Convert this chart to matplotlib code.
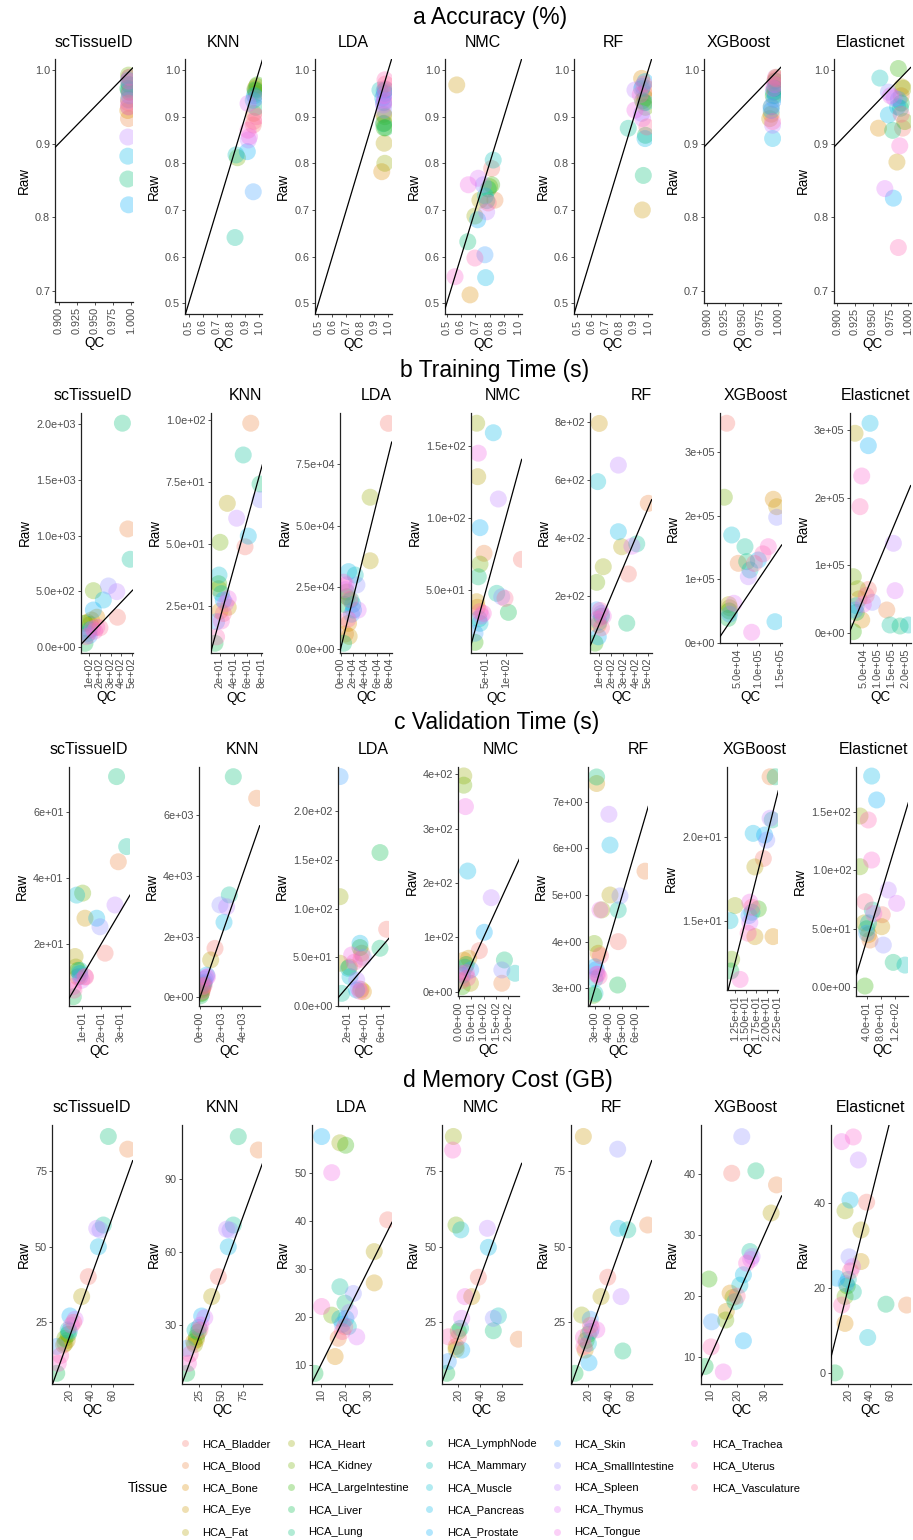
import numpy as np
import matplotlib
matplotlib.use("Agg")
import matplotlib.pyplot as plt
from matplotlib.lines import Line2D

plt.rcParams['font.family'] = ['Liberation Sans', 'DejaVu Sans']

# ---------------- data ----------------
tissues = ["HCA_Bladder", "HCA_Blood", "HCA_Bone", "HCA_Eye", "HCA_Fat", "HCA_Heart", "HCA_Kidney",
           "HCA_LargeIntestine", "HCA_Liver", "HCA_Lung", "HCA_LymphNode", "HCA_Mammary", "HCA_Muscle",
           "HCA_Pancreas", "HCA_Prostate", "HCA_Skin", "HCA_SmallIntestine", "HCA_Spleen", "HCA_Thymus",
           "HCA_Tongue", "HCA_Trachea", "HCA_Uterus", "HCA_Vasculature"]
methods = ["scTissueID", "KNN", "LDA", "NMC", "RF", "XGBoost", "Elasticnet"]
metric_titles = ["a Accuracy (%)", "b Training Time (s)", "c Validation Time (s)", "d Memory Cost (GB)"]

# Accuracy
acc_sctissueid_qc = [0.997,0.997,0.996,0.997,0.998,0.998,0.997,0.998,0.996,0.996,0.997,0.998,0.997,0.996,0.997,0.998,0.997,0.996,0.997,0.998,0.997,0.998,0.997]
acc_sctissueid_raw = [0.950,0.934,0.945,0.960,0.980,0.990,0.993,0.970,0.975,0.852,0.973,0.980,0.986,0.883,0.817,0.965,0.959,0.909,0.950,0.990,0.985,0.970,0.955]
acc_knn_qc = [0.957,0.960,0.975,0.970,0.980,0.975,0.845,0.985,0.970,0.975,0.828,0.835,0.957,0.965,0.915,0.957,0.975,0.922,0.920,0.930,0.920,0.981,0.960]
acc_knn_raw = [0.882,0.907,0.950,0.960,0.965,0.955,0.812,0.968,0.957,0.920,0.641,0.818,0.935,0.945,0.825,0.739,0.940,0.850,0.928,0.857,0.871,0.900,0.890]
acc_lda_qc = [0.970,0.965,0.953,0.970,0.970,0.975,0.975,0.970,0.980,0.965,0.980,0.940,0.970,0.960,0.975,0.965,0.970,0.965,0.975,0.970,0.975,0.976,0.980]
acc_lda_raw = [0.930,0.905,0.782,0.886,0.843,0.800,0.900,0.876,0.876,0.885,0.958,0.957,0.955,0.940,0.950,0.930,0.914,0.925,0.935,0.945,0.960,0.979,0.970]
acc_nmc_qc = [0.814,0.837,0.663,0.570,0.732,0.697,0.800,0.814,0.790,0.647,0.780,0.825,0.770,0.772,0.716,0.767,0.756,0.779,0.720,0.651,0.558,0.697,0.790]
acc_nmc_raw = [0.789,0.721,0.518,0.968,0.721,0.687,0.750,0.754,0.745,0.632,0.720,0.807,0.730,0.555,0.679,0.604,0.754,0.696,0.768,0.754,0.557,0.597,0.715]
acc_rf_qc = [0.970,0.990,0.953,0.958,0.977,0.970,0.980,0.960,0.980,0.965,0.859,0.953,0.980,0.977,0.977,0.960,0.953,0.906,0.960,0.906,0.943,0.970,0.990]
acc_rf_raw = [0.950,0.960,0.982,0.700,0.940,0.930,0.920,0.934,0.860,0.774,0.875,0.960,0.930,0.853,0.975,0.965,0.907,0.957,0.896,0.914,0.947,0.970,0.878]
acc_xgb_qc = [0.995,0.997,0.990,0.988,0.995,0.997,0.995,0.993,0.996,0.990,0.995,0.993,0.996,0.992,0.990,0.994,0.990,0.992,0.995,0.993,0.996,0.992,0.997]
acc_xgb_raw = [0.985,0.980,0.940,0.934,0.970,0.990,0.975,0.965,0.985,0.950,0.975,0.970,0.965,0.907,0.945,0.960,0.950,0.925,0.980,0.975,0.990,0.930,0.988]
acc_enet_qc = [0.992,0.990,0.958,0.984,0.991,0.993,0.995,0.986,0.990,0.978,0.989,0.960,0.985,0.972,0.979,0.986,0.972,0.980,0.967,0.975,0.988,0.986,0.990]
acc_enet_raw = [0.921,0.965,0.921,0.875,0.977,0.975,0.930,1.002,0.955,0.918,0.948,0.989,0.950,0.939,0.826,0.960,0.970,0.962,0.839,0.965,0.897,0.759,0.940]

# Training time
train_sctissueid_qc = [365,463,170,120,80,110,138,59,59,412,485,100,90,232,138,100,280,359,130,170,150,70,200]
train_sctissueid_raw = [265,1059,265,240,220,200,504,210,30,2010,786,150,120,420,330,100,546,495,160,175,140,90,170]
train_knn_qc = [56.6,65,20,32,30.7,18,20,18,12.7,78.6,54,22,18.5,61.4,24.8,15,78.6,44.4,28,32,22,15,25]
train_knn_raw = [48.9,98.7,23,24.5,66.4,32,50.7,34,10,74.2,85.9,30,37.5,53.2,27.4,18.7,67.9,60.4,26,28,19,12.6,22]
train_lda_qc = [78400,8000,13000,14000,48500,48500,10000,10400,6000,4900,17000,24000,20000,13000,21200,18000,26800,8000,28800,9000,5000,12000,15000]
train_lda_raw = [91500,6000,10300,5000,35700,61500,23000,21100,18000,2200,19800,29900,18000,31300,15700,14000,25900,24000,15700,25900,27000,12000,20000]
train_nmc_qc = [140,45,28,26.3,28.9,26.3,34.7,22,106.9,30.4,77.2,32,34.7,68.6,34.7,22,90,81.3,38,30.4,43,34.7,98.3]
train_nmc_raw = [71.3,75.5,38,41.9,128.7,165.8,68,13.7,34.5,59.2,47.7,30,26.9,159.2,93.3,20,45.3,113.2,32,145,33.8,35,44.2]
train_rf_qc = [341,505,94,102,286,135,81,67,120,328,410,100,89,259,94,81,120,259,370,135,90,110,120]
train_rf_raw = [276,520,100,796,370,301,247,37,130,106,380,110,595,422,59,152,140,652,372,130,120,150,90]
train_xgb_qc = [25200,52300,134300,142300,30000,32000,19600,31000,28900,72000,68000,79700,36900,138300,99200,32000,142300,75800,42000,83700,122600,110000,90000]
train_xgb_raw = [345800,125100,226000,214300,60000,55000,229200,50000,38400,127700,151300,114600,169700,33100,130300,45000,197600,104000,62100,16400,151300,140000,125000]
train_enet_qc = [67700,133000,44300,35000,20600,30000,14500,14500,25000,180100,144700,209600,25000,73800,67700,20600,82000,156400,162400,50000,44300,38300,60000]
train_enet_raw = [64000,33600,18800,50000,295100,65000,82900,1500,30000,9900,11400,11400,40000,309900,276800,33600,45000,132300,62200,42000,231900,186500,55000]

# Validation time
val_sctissueid_qc = [22,28.8,8,11.7,6.6,7,10.5,8,5.7,27.9,33.1,9,7.4,17.7,9,9.1,19.4,27.1,10,11.7,5.7,6,12]
val_sctissueid_raw = [17.2,44.9,10,27.8,16.2,13,35.4,12,4.0,70.7,49.5,12,34.8,27.8,11,10.1,25.2,31.8,9,10.1,7.1,6,10]
val_knn_qc = [1420,5360,200,150,1010,250,300,100,50,3150,2770,400,350,2270,630,470,1890,2520,600,710,300,200,400]
val_knn_raw = [1610,6550,250,150,1230,300,400,120,50,7260,3370,500,450,2470,730,600,3040,2980,650,680,350,200,400]
val_lda_qc = [66.8,36.8,38.8,36,10.8,10.8,22,34.8,58.8,58.8,12.8,20.7,22.8,34.8,30.8,10.8,38.8,30.8,33,24.8,28,35,36]
val_lda_raw = [78.8,54.2,14.7,17,43.9,112.3,40,60,157.6,59.3,13,38.7,30.1,64.4,16.4,235.7,50,26.7,18,52.4,45,15,48]
val_nmc_qc = [82.8,173.6,20,40,46.8,20,20,13.6,30,184,25,226.8,15,36,102.8,48,173.6,130.8,6.8,26.8,30,35,10]
val_nmc_raw = [75.5,15.5,58,61.5,15.5,397,380,9.2,50,58.4,45,33.9,30,222,109.3,40,40,173,33.9,340.6,35,25,20]
val_rf_qc = [4.7,6.66,3.24,3.12,4.1,3.5,2.95,2.9,4.66,3.12,4.7,3.0,3.0,4.1,3.0,3.1,4.83,4.02,3.2,3.37,3.12,3.3,3.4]
val_rf_raw = [4.0,5.51,3.75,7.39,5.0,4.68,3.96,2.85,3.07,7.53,4.68,2.89,3.2,6.07,3.46,3.4,4.98,6.73,3.3,4.68,3.3,3.25,3.7]
val_xgb_qc = [19.2,20.8,21.5,17.2,17.2,12.5,11.7,18,11.5,22,21.3,16.5,11.3,16.8,19.5,15.8,20,20.8,16,16.0,13.7,15.6,16.5]
val_xgb_raw = [18.7,23.57,14.05,14.05,18.2,15.9,12.7,15.7,12.0,23.57,21.0,15.5,15.0,20.2,20.1,15.3,19.8,21.1,14.9,16.1,11.5,14.25,15.8]
val_enet_qc = [84,49.3,45,82.4,33,21,21,35.2,40,115,56,148.2,45,54,68.2,40,87,101,124.7,60,54,44.5,35.2]
val_enet_raw = [62,40.4,45,51.8,55,146.3,103,1.1,50,21.3,66,19,55,180.4,160,46.1,36.1,83.1,71.7,63,108.7,142.9,73.1]

# Memory
mem_sctissueid_qc = [37.5,73.9,14.8,18,31.4,16,16,19,8.4,56,51.4,19,20,46.8,20.6,8.4,48.3,45.3,25.3,22,9.8,12,24]
mem_sctissueid_raw = [40.1,82.3,17.5,19,33.5,18,19.7,21,8.1,86.5,57.2,22.5,22,50,27.1,17,55.6,56.1,26,24,11.4,14,25]
mem_knn_qc = [46.8,91.9,19,22,39.3,20,22,24,11.1,69.3,63.7,20.5,25,58,28,11.1,60,56.2,31.5,27,13,15,26]
mem_knn_raw = [49.9,102.1,23,24,41.7,22,25,27,10.1,107.6,71.2,27.9,29,62.2,33.7,20.4,69.1,69.5,33,30,14.2,18,28]
mem_lda_qc = [37.9,17.3,16,32.3,32.3,18,14.6,20.4,7.6,20.1,18,21.5,18,20.5,10.4,19,23.6,22,25,14.6,10.4,19,20]
mem_lda_raw = [40.2,15.6,11.8,27.1,33.6,56.2,20.4,55.7,8.3,22.9,26.3,18,19.7,19.7,57.5,18.5,24.9,21,15.9,50,22.2,17,18]
mem_nmc_qc = [38.2,74.5,18,32.2,18,15.5,17.9,20,9.5,51.8,22,56.4,22.2,47.3,23.1,10.9,51.8,46.4,23.1,26.1,14.9,10.9,20]
mem_nmc_raw = [39.9,19.4,17,33.5,16,86.5,57.2,22,8.1,22.2,23,27.1,55.6,49.8,15.8,12,26.3,56.1,26.3,33.5,82,20.2,20]
mem_rf_qc = [37.9,74.8,17,15.4,31.7,13.9,20,18,7.7,51.8,56.4,22,20,47.7,20.6,21.8,47.1,50.2,23.1,27.8,15.5,16,22]
mem_rf_raw = [39.9,57.2,15.8,86.5,33.5,27.4,21,19,8.1,15.5,55.6,22,18,56.1,11.6,26,82.3,33.5,23,22.5,20,17,24]
mem_xgb_qc = [18,34.5,17.4,16,32.5,18.5,15.8,9.6,8.2,26.9,24.7,19.2,21,22.3,22.3,10.6,21.7,25.5,25,14.9,23.5,10.4,20]
mem_xgb_raw = [40.1,38.2,20.5,17.5,33.6,19.8,16.1,22.8,8.5,40.5,27.3,19.1,21.8,23.5,12.7,15.8,46.1,26.5,26,7.6,25.4,11.7,20]
mem_enet_qc = [37.2,74.7,16.9,31.9,31.9,16.9,17,19,7.5,55.3,24.7,20,38.2,21.6,9.1,18,20.7,29.4,24,13.8,24.7,13.8,22]
mem_enet_raw = [40.1,16,11.7,26.2,33.6,38.1,18,20.5,0.1,16.2,19.1,22,8.4,40.6,22.3,21,27.3,50,25,54.3,55.4,16,24]

# Tick labels
acc_x_fine = ["0.900", "0.925", "0.950", "0.975", "1.000"]
acc_x_coarse = ["0.5", "0.6", "0.7", "0.8", "0.9", "1.0"]
acc_y_fine = ["0.7", "0.8", "0.9", "1.0"]
acc_y_coarse = ["0.5", "0.6", "0.7", "0.8", "0.9", "1.0"]

xticks_labels = [
    [acc_x_fine, acc_x_coarse, acc_x_coarse, acc_x_coarse, acc_x_coarse, acc_x_fine, acc_x_fine],
    [["1e+02", "2e+02", "3e+02", "4e+02", "5e+02"], ["2e+01", "4e+01", "6e+01", "8e+01"],
     ["0e+00", "2e+04", "4e+04", "6e+04", "8e+04"], ["5e+01", "1e+02"],
     ["1e+02", "2e+02", "3e+02", "4e+02", "5e+02"], ["5.0e+04", "1.0e+05", "1.5e+05"],
     ["5.0e+04", "1.0e+05", "1.5e+05", "2.0e+05"]],
    [["1e+01", "2e+01", "3e+01"], ["0e+00", "2e+03", "4e+03"], ["2e+01", "4e+01", "6e+01"],
     ["0.0e+00", "5.0e+01", "1.0e+02", "1.5e+02", "2.0e+02"], ["3e+00", "4e+00", "5e+00", "6e+00"],
     ["1.25e+01", "1.50e+01", "1.75e+01", "2.00e+01", "2.25e+01"], ["4.0e+01", "8.0e+01", "1.2e+02"]],
    [["20", "40", "60"], ["25", "50", "75"], ["10", "20", "30"], ["20", "40", "60"],
     ["20", "40", "60"], ["10", "20", "30"], ["20", "40", "60"]],
]
yticks_labels = [
    [acc_y_fine, acc_y_coarse, acc_y_coarse, acc_y_coarse, acc_y_coarse, acc_y_fine, acc_y_fine],
    [["0.0e+00", "5.0e+02", "1.0e+03", "1.5e+03", "2.0e+03"], ["2.5e+01", "5.0e+01", "7.5e+01", "1.0e+02"],
     ["0.0e+00", "2.5e+04", "5.0e+04", "7.5e+04"], ["5.0e+01", "1.0e+02", "1.5e+02"],
     ["2e+02", "4e+02", "6e+02", "8e+02"], ["0e+00", "1e+05", "2e+05", "3e+05"],
     ["0e+00", "1e+05", "2e+05", "3e+05"]],
    [["2e+01", "4e+01", "6e+01"], ["0e+00", "2e+03", "4e+03", "6e+03"],
     ["0.0e+00", "5.0e+01", "1.0e+02", "1.5e+02", "2.0e+02"], ["0e+00", "1e+02", "2e+02", "3e+02", "4e+02"],
     ["3e+00", "4e+00", "5e+00", "6e+00", "7e+00"], ["1.5e+01", "2.0e+01"],
     ["0.0e+00", "5.0e+01", "1.0e+02", "1.5e+02"]],
    [["25", "50", "75"], ["30", "60", "90"], ["10", "20", "30", "40", "50"], ["25", "50", "75"],
     ["25", "50", "75"], ["10", "20", "30", "40"], ["0", "20", "40"]],
]

data = [
    [(acc_sctissueid_qc, acc_sctissueid_raw), (acc_knn_qc, acc_knn_raw), (acc_lda_qc, acc_lda_raw),
     (acc_nmc_qc, acc_nmc_raw), (acc_rf_qc, acc_rf_raw), (acc_xgb_qc, acc_xgb_raw), (acc_enet_qc, acc_enet_raw)],
    [(train_sctissueid_qc, train_sctissueid_raw), (train_knn_qc, train_knn_raw), (train_lda_qc, train_lda_raw),
     (train_nmc_qc, train_nmc_raw), (train_rf_qc, train_rf_raw), (train_xgb_qc, train_xgb_raw), (train_enet_qc, train_enet_raw)],
    [(val_sctissueid_qc, val_sctissueid_raw), (val_knn_qc, val_knn_raw), (val_lda_qc, val_lda_raw),
     (val_nmc_qc, val_nmc_raw), (val_rf_qc, val_rf_raw), (val_xgb_qc, val_xgb_raw), (val_enet_qc, val_enet_raw)],
    [(mem_sctissueid_qc, mem_sctissueid_raw), (mem_knn_qc, mem_knn_raw), (mem_lda_qc, mem_lda_raw),
     (mem_nmc_qc, mem_nmc_raw), (mem_rf_qc, mem_rf_raw), (mem_xgb_qc, mem_xgb_raw), (mem_enet_qc, mem_enet_raw)],
]

# ---------------- layout (pixels) ----------------
W, H = 913, 1540
boxes = [
    [(55.3, 132.7, 59.3, 301.7), (185, 262.3, 59.3, 314.3), (314.7, 391.7, 59.3, 314.3), (445, 521.7, 59.3, 314.3),
     (574, 651.7, 59.3, 314.3), (704, 781, 59.3, 302.7), (834, 910.7, 59.3, 302.7)],
    [(80.7, 132.7, 413.3, 652.7), (210.7, 262.3, 413.3, 652.7), (340.3, 391.7, 413.3, 652.7), (470.7, 521.7, 413.3, 652.7),
     (590.3, 651.7, 413.3, 652.7), (720, 781.7, 413.3, 643.3), (849.7, 910.7, 413.3, 643.3)],
    [(68.7, 130, 766.7, 1006), (198.7, 259.7, 766.7, 1006), (337.7, 389, 766.7, 1006), (458.3, 519.3, 766.7, 996),
     (587.7, 648.3, 766.7, 1006), (727, 778.3, 766.7, 990), (856.3, 908.3, 766.7, 996)],
    [(52.3, 132.7, 1125, 1384), (182, 262.3, 1125, 1384), (311.7, 392, 1125, 1384), (441.7, 521.7, 1125, 1384),
     (571, 651.7, 1125, 1384), (700.7, 781.7, 1125, 1384), (830.7, 910.7, 1125, 1384)],
]
xlims = [
    [(0.8953, 1.0028), (0.4738, 1.021), (0.474, 1.024), (0.488, 1.024), (0.477, 1.024), (0.8954, 1.0038), (0.8954, 1.0034)],
    [(18.7, 509), (6.4, 81.9), (-500, 83900), (11.1, 140.7), (28.5, 532.9), (9484, 154000), (1774, 217700)],
    [(3.33, 34.8), (-123, 5646), (8, 69.6), (-2, 244), (2.47, 6.9), (10.6, 22.74), (10.6, 157.6)],
    [(4.3, 78.5), (5.8, 96.4), (6.25, 39.7), (4.9, 77.6), (4.0, 78.5), (6.58, 36.4), (3.5, 78.5)],
]
ylims = [
    [(0.6855, 1.0145), (0.4764, 1.0229), (0.4764, 1.0229), (0.4764, 1.0229), (0.4764, 1.0229), (0.6841, 1.0145), (0.6841, 1.0145)],
    [(-54, 2099), (6.2, 102.7), (-1624, 95584), (6.5, 172.7), (4, 831), (-946, 361500), (-15690, 324700)],
    [(1.2, 73.7), (-286, 7589), (0, 245.8), (-7.9, 414), (2.62, 7.75), (10.87, 24.17), (-7.4, 188.4)],
    [(4.57, 90.3), (5.7, 112.4), (6.1, 59.9), (4.57, 90.3), (4.57, 90.3), (5.63, 48.0), (-2.5, 58.2)],
]
title_x = [
    [93.5, 223.5, 353, 483, 613, 739, 870.7],
    [92.5, 245, 376.7, 503, 641, 755.5, 875.7],
    [89.3, 242.7, 373.5, 500.5, 638, 755, 873],
    [92.3, 222.3, 351.7, 481.3, 611.7, 745.3, 870.3],
]
title_y = [42.7, 396, 750, 1108]
header_pos = [(490, 17.5), (495, 370), (497, 722), (508, 1080)]

# ---------------- colours (ggplot hue palette) ----------------
def hcl_hex(h, c=100.0, l=65.0):
    hr = np.deg2rad(h)
    u = c * np.cos(hr)
    v = c * np.sin(hr)
    Xn, Yn, Zn = 0.95047, 1.0, 1.08883
    den = Xn + 15 * Yn + 3 * Zn
    un, vn = 4 * Xn / den, 9 * Yn / den
    Y = Yn * ((l + 16) / 116) ** 3 if l > 8 else Yn * l / 903.3
    up = u / (13 * l) + un
    vp = v / (13 * l) + vn
    X = Y * 9 * up / (4 * vp)
    Z = Y * (12 - 3 * up - 20 * vp) / (4 * vp)
    M = np.array([[3.2404542, -1.5371385, -0.4985314],
                  [-0.9692660, 1.8760108, 0.0415560],
                  [0.0556434, -0.2040259, 1.0572252]])
    rgb = M @ np.array([X, Y, Z])
    rgb = np.where(rgb <= 0.0031308, 12.92 * rgb, 1.055 * np.sign(rgb) * np.abs(rgb) ** (1 / 2.4) - 0.055)
    return tuple(np.clip(rgb, 0, 1))

n = len(tissues)
colors = [hcl_hex(15 + 360 * i / n) for i in range(n)]
ALPHA = 0.3

# ---------------- drawing ----------------
fig = plt.figure(figsize=(W / 100, H / 100), dpi=100)
tick_kw = dict(direction='out', length=2.2, width=0.6, color='#333333', labelsize=7.8,
               labelcolor='#4D4D4D', pad=1.5)

for r in range(4):
    hx, hy = header_pos[r]
    fig.text(hx / W, 1 - hy / H, metric_titles[r], ha='center', va='center', fontsize=16.5)
    for c in range(7):
        L, R, T, B = boxes[r][c]
        ax = fig.add_axes([L / W, 1 - B / H, (R - L) / W, (B - T) / H])
        qc, raw = data[r][c]
        ax.scatter(qc, raw, s=150, c=colors, alpha=ALPHA, linewidths=0, zorder=2)
        ax.axline((0, 0), slope=1, color='black', lw=0.9, zorder=3)
        ax.set_xlim(*xlims[r][c])
        ax.set_ylim(*ylims[r][c])
        xl = xticks_labels[r][c]
        yl = yticks_labels[r][c]
        ax.set_xticks([float(s) for s in xl])
        ax.set_xticklabels(xl, rotation=90)
        ax.set_yticks([float(s) for s in yl])
        ax.set_yticklabels(yl)
        ax.tick_params(**tick_kw)
        for s in ['top', 'right']:
            ax.spines[s].set_visible(False)
        for s in ['left', 'bottom']:
            ax.spines[s].set_linewidth(0.9)
            ax.spines[s].set_color('#222222')
        ax.set_xlabel("QC", fontsize=9.75, labelpad=1.5)
        ax.set_ylabel("Raw", fontsize=9.75, labelpad=3)
        fig.text(title_x[r][c] / W, 1 - title_y[r] / H, methods[c], ha='center', va='center', fontsize=11.5)

# legend (two invisible fillers so columns hold 5,5,5,5,3 entries like the original)
handles = [Line2D([], [], marker='o', ls='', markersize=5, markerfacecolor=col,
                  markeredgewidth=0, alpha=ALPHA) for col in colors]
labels = list(tissues)
for _ in range(2):
    handles.append(Line2D([], [], marker='', ls='', alpha=0))
    labels.append("")
fig.legend(handles, labels, ncol=5, loc='upper left', bbox_to_anchor=(179 / W, 1 - 1439 / H),
           frameon=False, fontsize=8, handletextpad=1.1, columnspacing=1.3, labelspacing=1.09,
           borderpad=0, borderaxespad=0, handlelength=1.0)
fig.text(148 / W, 1 - 1488 / H, "Tissue", ha='center', va='center', fontsize=10)

fig.savefig("out.png", dpi=100)
